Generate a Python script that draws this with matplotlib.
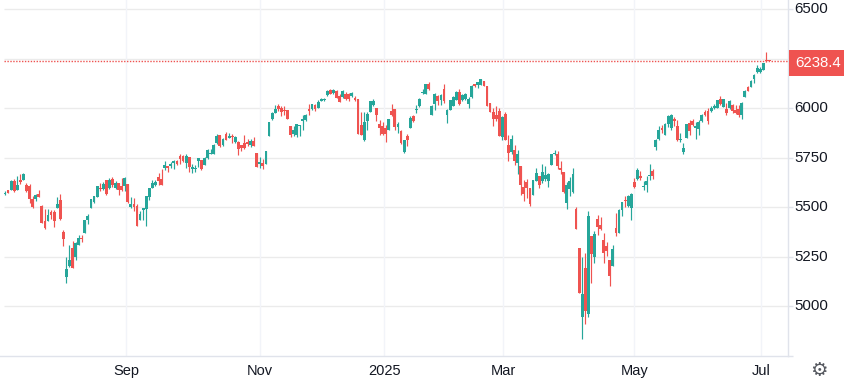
import matplotlib
matplotlib.use('Agg')
from matplotlib import pyplot as plt
from matplotlib.patches import Rectangle
import numpy as np

plt.rcParams['font.family'] = ['Liberation Sans', 'DejaVu Sans']

opens = [5566,5587,5588,5635,5588,5637,5639,5612,5607,5540,
         5541,5566,5506,5429,5432,5476,5479,5499,5536,5375,
         5150,5204,5294,5249,5311,5348,5372,5435,5496,5526,
         5553,5600,5593,5637,5600,5642,5600,5625,5607,5608,
         5620,5501,5519,5506,5437,5488,5492,5553,5598,5612,
         5654,5642,5699,5708,5708,5724,5733,5761,5758,5723,
         5756,5692,5692,5734,5738,5714,5750,5770,5770,5825,
         5867,5815,5872,5852,5859,5829,5832,5817,5827,5832,
         5815,5834,5776,5719,5724,5719,5861,5945,5976,6010,
         6003,5990,5990,5913,5869,5866,5911,5936,5939,5995,
         5995,6015,6002,6039,6040,6066,6091,6077,6086,6060,
         6057,6074,6071,6060,6054,6049,5914,5839,5934,5981,
         6019,6003,5919,5909,5903,5889,5985,5995,5906,5887,
         5778,5861,5901,5963,5990,6010,6077,6072,6121,5966,
         6022,6062,6044,6096,5966,5993,6013,6044,6084,6040,
         6047,6020,6055,6121,6118,6119,6136,6114,6027,5983,
         5968,5986,5855,5970,5813,5780,5789,5726,5708,5602,
         5627,5597,5563,5634,5658,5631,5644,5631,5715,5772,
         5772,5698,5678,5523,5592,5579,5491,5295,4949,5194,
         4964,5355,5251,5441,5411,5335,5305,5234,5204,5396,
         5372,5486,5533,5506,5498,5627,5644,5657,5604,5614,
         5659,5683,5805,5847,5901,5866,5923,5899,5946,5910,
         5839,5780,5851,5926,5936,5903,5894,5935,5981,5985,
         5985,6001,6003,6049,6007,5998,6002,6015,5990,5998,
         5968,6057,6106,6108,6146,6183,6183,6193,6242,6240]

highs = [5583,5590,5637,5642,5657,5667,5672,5622,5617,5556,
         5570,5587,5510,5491,5491,5486,5489,5551,5566,5388,
         5249,5312,5330,5326,5360,5360,5435,5466,5541,5560,
         5607,5622,5630,5640,5649,5652,5632,5625,5649,5652,
         5620,5551,5546,5519,5482,5497,5558,5600,5637,5637,
         5672,5692,5733,5708,5728,5738,5741,5768,5763,5768,
         5756,5718,5713,5751,5738,5756,5797,5793,5822,5872,
         5867,5849,5879,5874,5869,5859,5835,5817,5864,5845,
         5845,5855,5776,5755,5743,5783,5930,5983,6015,6020,
         6012,6010,5993,5913,5909,5923,5918,5965,5973,6022,
         6023,6022,6044,6054,6050,6091,6096,6099,6091,6070,
         6091,6081,6077,6081,6060,6049,5981,5981,5981,6039,
         6049,6003,5939,5931,5914,5948,6020,5998,5931,5889,
         5839,5872,5960,5966,6015,6050,6099,6121,6131,6018,
         6077,6066,6074,6121,5995,6044,6064,6086,6099,6071,
         6077,6057,6119,6124,6131,6146,6136,6114,6027,6000,
         6010,6000,5960,5983,5864,5864,5814,5789,5708,5637,
         5641,5597,5637,5701,5658,5718,5711,5674,5772,5789,
         5784,5733,5678,5627,5654,5698,5500,5295,5249,5269,
         5481,5355,5379,5461,5451,5370,5325,5234,5310,5471,
         5491,5528,5557,5563,5573,5646,5701,5684,5632,5659,
         5721,5693,5847,5910,5918,5926,5965,5970,5957,5940,
         5878,5827,5923,5940,5945,5930,5940,5973,5990,6003,
         6010,6023,6044,6060,6049,6025,6040,6020,6018,6018,
         6032,6091,6111,6143,6175,6217,6208,6227,6287,6240]

lows = [5561,5571,5587,5576,5587,5617,5637,5580,5521,5496,
        5533,5551,5420,5390,5430,5444,5402,5496,5439,5306,
        5119,5200,5193,5234,5309,5323,5370,5415,5496,5524,
        5553,5585,5590,5561,5593,5603,5593,5561,5583,5581,
        5523,5499,5481,5405,5435,5439,5407,5536,5597,5607,
        5615,5612,5687,5677,5701,5696,5714,5721,5728,5701,
        5679,5674,5679,5704,5689,5713,5746,5768,5768,5822,
        5805,5810,5839,5850,5827,5825,5763,5785,5797,5812,
        5805,5808,5702,5701,5696,5719,5860,5943,5975,5987,
        5960,5965,5944,5855,5862,5856,5859,5889,5936,5965,
        5993,5985,6000,6037,6039,6064,6070,6074,6050,6030,
        6054,6040,6037,6059,6037,5872,5864,5834,5889,5981,
        6010,5936,5864,5864,5830,5889,5960,5889,5874,5822,
        5773,5808,5899,5931,5978,6007,6074,6070,6094,5965,
        5993,6018,6018,6025,5926,5990,6010,6040,6017,6037,
        6044,6003,6052,6106,6104,6117,6111,6010,5980,5911,
        5936,5859,5842,5839,5735,5768,5713,5671,5565,5533,
        5546,5508,5561,5631,5599,5624,5632,5604,5713,5763,
        5693,5671,5574,5491,5557,5574,5390,5068,4836,4912,
        4947,5118,5221,5360,5385,5219,5254,5103,5204,5355,
        5370,5457,5503,5504,5436,5599,5637,5639,5587,5578,
        5637,5641,5789,5842,5876,5864,5906,5893,5913,5834,
        5831,5768,5851,5864,5910,5844,5864,5931,5963,5919,
        5983,5999,6002,6015,6005,5965,5995,5975,5971,5955,
        5945,6055,6086,6106,6129,6180,6180,6192,6232,6238]

closes = [5569,5573,5632,5582,5615,5627,5667,5583,5543,5503,
          5565,5553,5422,5397,5461,5461,5432,5519,5442,5341,
          5187,5237,5195,5318,5345,5343,5435,5455,5541,5556,
          5607,5592,5620,5568,5637,5612,5625,5587,5587,5647,
          5526,5519,5503,5407,5469,5495,5556,5597,5625,5629,
          5634,5612,5713,5701,5718,5733,5718,5745,5736,5761,
          5703,5704,5701,5751,5694,5751,5792,5775,5813,5859,
          5808,5844,5842,5862,5854,5854,5793,5800,5800,5822,
          5834,5808,5704,5728,5708,5783,5929,5975,5995,5995,
          5983,5985,5946,5866,5892,5919,5918,5948,5968,5985,
          6020,5998,6034,6045,6049,6086,6074,6091,6054,6032,
          6086,6047,6047,6076,6044,5872,5867,5929,5973,6039,
          6039,5965,5903,5872,5872,5945,5968,5906,5921,5825,
          5839,5839,5950,5934,5995,6049,6084,6121,6096,6013,
          6072,6035,6069,6035,5993,6040,6057,6084,6020,6066,
          6071,6049,6114,6114,6131,6146,6114,6012,5981,5948,
          5948,5861,5956,5842,5775,5844,5735,5772,5614,5569,
          5599,5518,5637,5676,5614,5678,5663,5668,5768,5775,
          5710,5688,5579,5611,5632,5671,5392,5070,5063,4977,
          5456,5264,5365,5401,5390,5269,5280,5154,5290,5370,
          5486,5525,5530,5560,5570,5602,5688,5651,5607,5632,
          5662,5659,5842,5889,5893,5923,5960,5965,5938,5839,
          5842,5802,5923,5886,5915,5913,5931,5968,5964,5934,
          6001,6011,6040,6022,6045,5975,6035,5986,5978,5965,
          6025,6087,6087,6139,6170,6205,6197,6227,6238.4,6238.4]

month_ticks = [39.5, 83, 123.5, 162.3, 205, 246.2]
month_labels = ['Sep', 'Nov', '2025', 'Mar', 'May', 'Jul']
price_ticks = [4750, 5000, 5250, 5500, 5750, 6000, 6250, 6500]
price_labels = ['', '5000', '5250', '5500', '5750', '6000', '', '6500']

UP = '#26a69a'
DOWN = '#ef5350'
W, H = 844, 378

fig = plt.figure(figsize=(W / 100, H / 100), dpi=100)
ax = fig.add_axes([0, (H - 356) / H, 788 / W, 356 / H])

x = np.arange(len(closes))
o = np.array(opens, dtype=float)
c = np.array(closes, dtype=float)
colors = [UP if b >= a else DOWN for a, b in zip(o, c)]

# grid first, candles on top
ax.hlines(price_ticks[1:], -0.33, 255.05, color='#ebebeb', lw=1.0, zorder=1)
for t in month_ticks:
    ax.axvline(t, color='#f2f4f9', lw=1.0, zorder=1)

ax.vlines(x, lows, highs, color=colors, lw=0.85, zorder=3)
bottoms = np.minimum(o, c)
heights = np.maximum(np.abs(c - o), 5)
ax.bar(x, heights, bottom=bottoms, width=0.92, color=colors, lw=0, zorder=3)

ax.hlines(closes[-1], -0.33, 255.05, color=DOWN, lw=1.0, linestyles=(0, (1, 1.1)), zorder=4)

ax.set_xlim(-1.63, 255.05)
ax.set_ylim(4750, 6547)
ax.set_xticks(month_ticks)
ax.set_xticklabels(month_labels)
ax.yaxis.tick_right()
ax.set_yticks(price_ticks)
ax.set_yticklabels(price_labels)
ax.tick_params(axis='x', length=0, pad=6, labelsize=10.5, labelcolor='#131722')
ax.tick_params(axis='y', length=3.6, width=1, color='#e0e3eb', pad=1,
               labelsize=10.8, labelcolor='#131722')
for label in ax.get_yticklabels():
    label.set_va('center')
for name in ['top', 'left']:
    ax.spines[name].set_visible(False)
for name in ['right', 'bottom']:
    ax.spines[name].set_color('#e0e3eb')
    ax.spines[name].set_linewidth(1.0)

# last price tag on the right axis
fig.add_artist(Rectangle((789 / W, 1 - 76 / H), 55 / W, 26 / H, transform=fig.transFigure,
                         color=DOWN, lw=0, zorder=5))
fig.text(818 / W, 1 - 63 / H, '%.1f' % closes[-1], color='white', fontsize=10.8,
         ha='center', va='center', zorder=6)

fig.text(819 / W, 1 - 370 / H, '\u2699', color='#55585f', fontsize=14, ha='center', va='center',
         family='DejaVu Sans')

fig.savefig('out.png', dpi=100)
